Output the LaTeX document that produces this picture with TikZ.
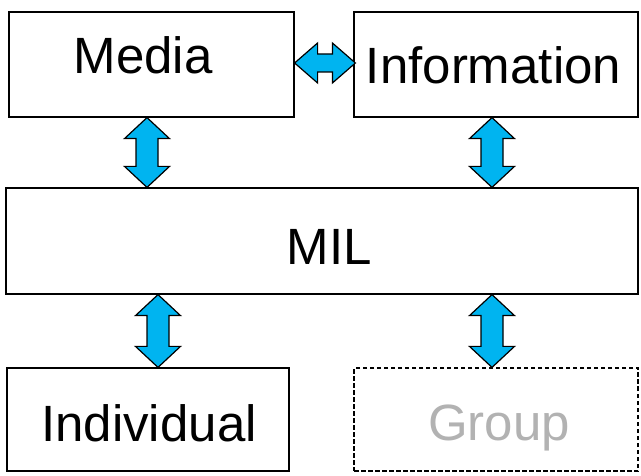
\documentclass[tikz,border=0pt]{standalone}
\usepackage{fontspec}
\setmainfont{Liberation Sans}
\usetikzlibrary{calc}
\definecolor{arrowblue}{RGB}{0,180,240}
\definecolor{grouptext}{RGB}{178,178,178}
\tikzset{
  box/.style={draw=black, line width=1.2pt, fill=white, inner sep=0pt},
  dashbox/.style={draw=black, line width=1.2pt, dash pattern=on 4.5pt off 2.5pt, fill=white, inner sep=0pt},
  label text/.style={anchor=base, inner sep=0pt, font=\fontsize{51}{60}\selectfont},
  arr/.style={draw=black, line width=1.2pt, fill=arrowblue, line join=miter}
}
\newcommand\vdarrow[2]{%
  \draw[arr] (#1) -- ($(#1)+(22.5,21)$) -- ($(#1)+(11,21)$) -- ($(#2)+(11,-21)$)
    -- ($(#2)+(22.5,-21)$) -- (#2) -- ($(#2)+(-22.5,-21)$) -- ($(#2)+(-11,-21)$)
    -- ($(#1)+(-11,21)$) -- ($(#1)+(-22.5,21)$) -- cycle;}
\newcommand\hdarrow[2]{%
  \draw[arr] (#1) -- ($(#1)+(23,-20)$) -- ($(#1)+(23,-9)$) -- ($(#2)+(-23,-9)$)
    -- ($(#2)+(-23,-20)$) -- (#2) -- ($(#2)+(-23,20)$) -- ($(#2)+(-23,9)$)
    -- ($(#1)+(23,9)$) -- ($(#1)+(23,20)$) -- cycle;}
\begin{document}
\begin{tikzpicture}[x=1pt,y=-1pt]
\useasboundingbox (0,0) rectangle (641,476);
% boxes
\node[box, minimum width=285pt, minimum height=105pt] (media) at (151.5,64.5) {};
\node[box, minimum width=284pt, minimum height=105pt] (info) at (496,64.5) {};
\node[box, minimum width=632pt, minimum height=106pt] (mil) at (322,241) {};
\node[box, minimum width=282pt, minimum height=103pt] (indiv) at (148,419.5) {};
\node[dashbox, minimum width=284pt, minimum height=103pt] (group) at (496,419.5) {};
% texts
\node[label text] (tmedia) at (143,74) {Media};
\node[label text] (tinfo) at (493.5,84) {Information};
\node[label text] (tmil) at (329.5,264.5) {MIL};
\node[label text] (tindiv) at (149,441) {Individual};
\node[label text, text=grouptext] (tgroup) at (499,440) {Group};
% arrow tips
\coordinate (a1t) at (147,0 |- media.south);
\coordinate (a1b) at (147,0 |- mil.north);
\coordinate (a2t) at (492,0 |- info.south);
\coordinate (a2b) at (492,0 |- mil.north);
\coordinate (a3t) at (158,0 |- mil.south);
\coordinate (a3b) at (158,0 |- indiv.north);
\coordinate (a4t) at (492,0 |- mil.south);
\coordinate (a4b) at (492,0 |- group.north);
\coordinate (h1) at (media.east |- 0,63);
\coordinate (h2) at ($(info.west |- 0,63)+(2,0)$);
% arrows
\vdarrow{a1t}{a1b}
\vdarrow{a2t}{a2b}
\vdarrow{a3t}{a3b}
\vdarrow{a4t}{a4b}
\hdarrow{h1}{h2}
\end{tikzpicture}
\end{document}
